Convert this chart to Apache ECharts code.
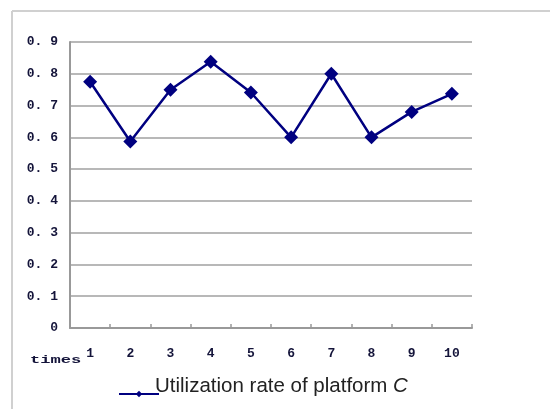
<!DOCTYPE html>
<html>
<head>
<meta charset="utf-8">
<script src="https://cdn.jsdelivr.net/npm/echarts@6/dist/echarts.min.js"></script>
<style>
  html, body { margin: 0; padding: 0; background: #fff; }
  #chart { width: 550px; height: 409px; }
</style>
</head>
<body>
<div id="chart"></div>
<script>
// Run index (x axis) and utilization rate of platform C per run
const runs = ['1', '2', '3', '4', '5', '6', '7', '8', '9', '10'];
const utilization = [0.775, 0.587, 0.75, 0.838, 0.741, 0.60, 0.80, 0.60, 0.68, 0.737];
const yTicks = [0, 0.1, 0.2, 0.3, 0.4, 0.5, 0.6, 0.7, 0.8, 0.9];
const yTickLabels = ['0', '0. 1', '0. 2', '0. 3', '0. 4', '0. 5', '0. 6', '0. 7', '0. 8', '0. 9'];
const seriesName = 'Utilization rate of platform C';

const labelFont = {
  fontFamily: '"Liberation Mono", "DejaVu Sans Mono", monospace',
  fontWeight: 'bold',
  fontSize: 13,
  color: '#14143a'
};

const chart = echarts.init(document.getElementById('chart'));
chart.setOption({
  animation: false,
  backgroundColor: '#ffffff',
  grid: { left: 70, right: 78, top: 42, bottom: 81 },
  xAxis: {
    type: 'category',
    data: runs,
    boundaryGap: true,
    axisLine: { lineStyle: { color: '#999999', width: 2 } },
    axisTick: { show: true, inside: true, length: 4, lineStyle: { color: '#999999', width: 1.5 } },
    axisLabel: Object.assign({ margin: 19 }, labelFont)
  },
  yAxis: {
    type: 'value',
    min: 0,
    max: 0.9,
    interval: 0.1,
    axisLine: { show: true, lineStyle: { color: '#999999', width: 2 } },
    axisTick: { show: false },
    splitLine: { lineStyle: { color: '#a0a0a0', width: 1.5 } },
    axisLabel: Object.assign({
      margin: 12,
      formatter: function (v) {
        const i = yTicks.findIndex(t => Math.abs(t - v) < 1e-6);
        return i >= 0 ? yTickLabels[i] : '';
      }
    }, labelFont)
  },
  legend: {
    data: [seriesName],
    left: 113,
    top: 371,
    itemWidth: 40,
    itemHeight: 8,
    itemGap: 0,
    formatter: function () {
      return '{n|Utilization rate of platform }{c|C}';
    },
    textStyle: {
      padding: [0, 0, 15, -9],
      rich: {
        n: { fontFamily: '"Liberation Sans", sans-serif', fontSize: 20.5, color: '#222222' },
        c: { fontFamily: '"Liberation Sans", sans-serif', fontSize: 20.5, fontStyle: 'italic', color: '#222222' }
      }
    }
  },
  series: [{
    name: seriesName,
    type: 'line',
    data: utilization,
    symbol: 'diamond',
    symbolSize: 14,
    itemStyle: { color: '#000080' },
    lineStyle: { color: '#000080', width: 2.5 }
  }],
  graphic: [
    // outer frame: left and top edges
    { type: 'line', shape: { x1: 12, y1: 11, x2: 12, y2: 409 }, style: { stroke: '#d0d0d0', lineWidth: 2 } },
    { type: 'line', shape: { x1: 12, y1: 11, x2: 550, y2: 11 }, style: { stroke: '#d0d0d0', lineWidth: 2 } },
    // x axis caption
    {
      type: 'text', x: 30, y: 355, scaleX: 1.55,
      style: {
        text: 'times',
        font: 'bold 11px "Liberation Mono", "DejaVu Sans Mono", monospace',
        fill: '#14143a'
      }
    }
  ]
});
</script>
</body>
</html>
